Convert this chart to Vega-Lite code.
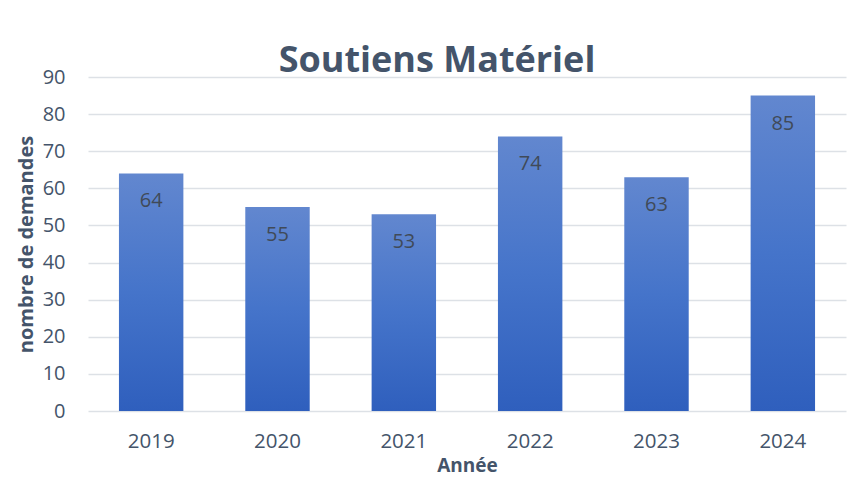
{
  "$schema": "https://vega.github.io/schema/vega-lite/v6.json",
  "autosize": "none",
  "width": 758,
  "height": 334,
  "padding": {"left": 88, "top": 77, "right": 9, "bottom": 66},
  "background": "white",
  "config": {
    "view": {"stroke": null},
    "font": "Open Sans"
  },
  "title": {
    "text": "Soutiens Matériel",
    "font": "Open Sans",
    "fontSize": 36,
    "fontWeight": "bold",
    "color": "#44546A",
    "anchor": "middle",
    "dx": -30,
    "dy": 41,
    "baseline": "alphabetic",
    "offset": 0
  },
  "data": {
    "values": [
      {"annee": "2019", "demandes": 64},
      {"annee": "2020", "demandes": 55},
      {"annee": "2021", "demandes": 53},
      {"annee": "2022", "demandes": 74},
      {"annee": "2023", "demandes": 63},
      {"annee": "2024", "demandes": 85}
    ]
  },
  "encoding": {
    "x": {
      "field": "annee",
      "type": "nominal",
      "scale": {"paddingInner": 0.49, "paddingOuter": 0.245},
      "axis": {
        "title": "Année",
        "titleFont": "Open Sans",
        "titleFontSize": 19,
        "titleFontWeight": "bold",
        "titleColor": "#44546A",
        "titlePadding": 5,
        "labelAngle": 0,
        "labelFont": "Open Sans",
        "labelFontSize": 20.5,
        "labelColor": "#44546A",
        "labelPadding": 20,
        "ticks": false,
        "domain": false,
        "grid": false
      }
    },
    "y": {
      "field": "demandes",
      "type": "quantitative",
      "scale": {"domain": [0, 90], "nice": false},
      "axis": {
        "title": "nombre de demandes",
        "titleFont": "Open Sans",
        "titleFontSize": 20,
        "titleFontWeight": "bold",
        "titleColor": "#44546A",
        "titlePadding": 6,
        "values": [0, 10, 20, 30, 40, 50, 60, 70, 80, 90],
        "labelFont": "Open Sans",
        "labelFontSize": 20,
        "labelColor": "#44546A",
        "labelPadding": 23,
        "ticks": false,
        "domain": false,
        "grid": true,
        "gridColor": "#DDE1E6",
        "gridWidth": 1.5
      }
    }
  },
  "layer": [
    {
      "mark": {
        "type": "bar",
        "color": {
          "gradient": "linear",
          "x1": 0, "y1": 0, "x2": 0, "y2": 1,
          "stops": [
            {"offset": 0, "color": "#6287CF"},
            {"offset": 0.5, "color": "#4574CA"},
            {"offset": 1, "color": "#2F5FBD"}
          ]
        }
      }
    },
    {
      "mark": {
        "type": "text",
        "baseline": "middle",
        "dy": 28,
        "font": "Open Sans",
        "fontSize": 20,
        "color": "#404A58"
      },
      "encoding": {
        "text": {"field": "demandes", "type": "quantitative"}
      }
    }
  ]
}
